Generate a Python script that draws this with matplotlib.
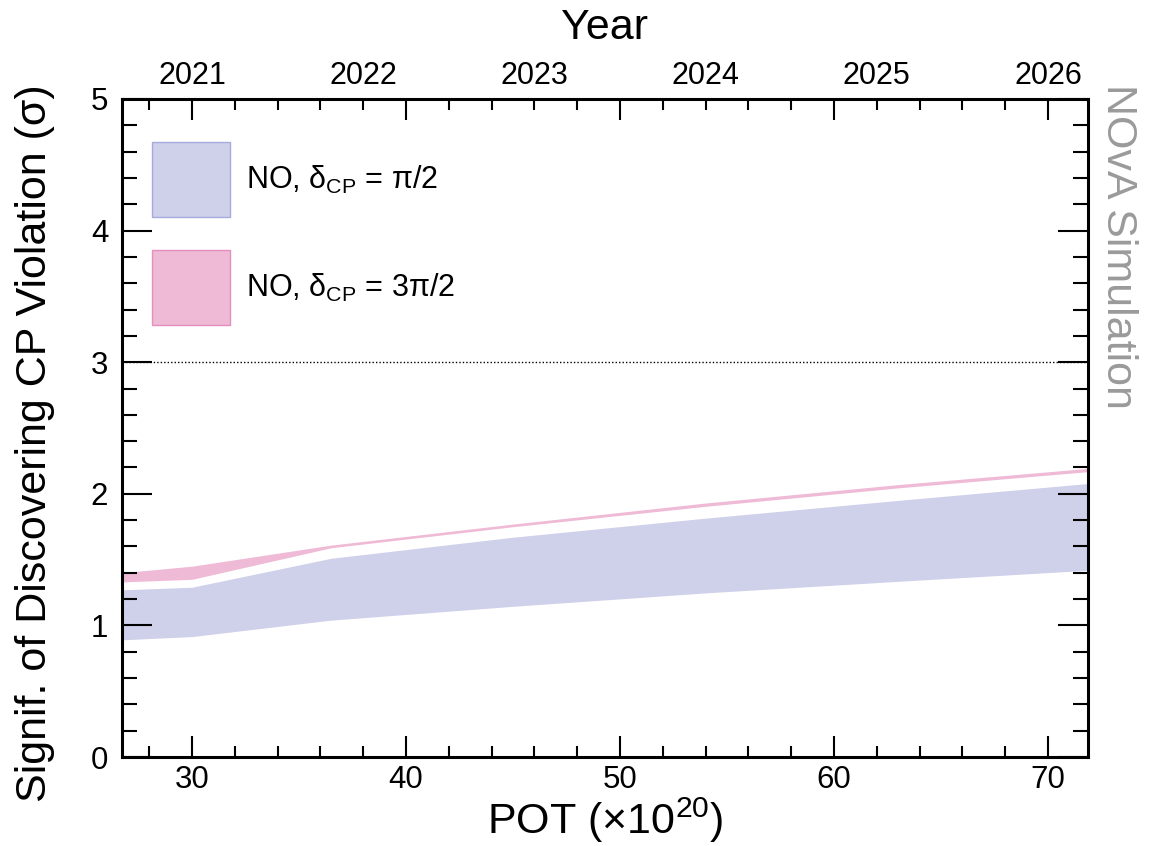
import matplotlib
matplotlib.use("Agg")
import matplotlib.pyplot as plt
from matplotlib.ticker import MultipleLocator
from matplotlib.patches import Rectangle

plt.rcParams['font.family'] = ['Liberation Sans', 'DejaVu Sans']
plt.rcParams['mathtext.default'] = 'regular'

# Exposure (POT, x10^20) at which the sensitivity was evaluated
pot = [26.7, 30.0, 36.5, 45.0, 54.0, 63.0, 72.0]

# NO, delta_CP = pi/2 : sensitivity band (sigma)
band_pi2_low = [0.89, 0.915, 1.04, 1.145, 1.247, 1.335, 1.42]
band_pi2_high = [1.27, 1.29, 1.51, 1.67, 1.815, 1.95, 2.08]

# NO, delta_CP = 3pi/2 : sensitivity band (sigma)
band_3pi2_low = [1.33, 1.35, 1.59, 1.75, 1.905, 2.045, 2.17]
band_3pi2_high = [1.40, 1.45, 1.61, 1.77, 1.93, 2.07, 2.195]

# Calendar years and the accumulated POT they correspond to
years = ['2021', '2022', '2023', '2024', '2025', '2026']
year_pot = [30, 38, 46, 54, 62, 70]

labels = [r'NO, δ$_{CP}$ = π/2', r'NO, δ$_{CP}$ = 3π/2']
blue_fill, blue_edge = '#cfd0ea', '#a8aade'
pink_fill, pink_edge = '#efbad6', '#e48fbd'

fig = plt.figure(figsize=(11.5, 8.46), dpi=100)
ax = fig.add_axes([0.1061, 0.1052, 0.8400, 0.7778])

ax.fill_between(pot, band_pi2_low, band_pi2_high, color=blue_fill, lw=0)
ax.fill_between(pot, band_3pi2_low, band_3pi2_high, color=pink_fill, lw=0)

ax.axhline(3, color='black', lw=1.0, ls=(0, (1, 1.5)), zorder=1)

ax.set_xlim(26.73, 71.87)
ax.set_ylim(0, 5)

ax.xaxis.set_major_locator(MultipleLocator(10))
ax.xaxis.set_minor_locator(MultipleLocator(2))
ax.yaxis.set_major_locator(MultipleLocator(1))
ax.yaxis.set_minor_locator(MultipleLocator(0.2))

ax.tick_params(which='both', direction='in', top=True, right=True,
               width=1.5, labelsize=22.5, pad=6)
ax.tick_params(axis='x', which='major', length=15)
ax.tick_params(axis='x', which='minor', length=8)
ax.tick_params(axis='y', which='major', length=21.5)
ax.tick_params(axis='y', which='minor', length=10.5)
ax.tick_params(axis='y', pad=10)
for s in ax.spines.values():
    s.set_linewidth(2.2)

# Year labels along the top edge, just above the frame
for yr, p in zip(years, year_pot):
    ax.text(p, 1.012, yr, transform=ax.get_xaxis_transform(),
            ha='center', va='bottom', fontsize=22)

fig.text(0.526, 1 - 28 / 846, 'Year', ha='center', va='center', fontsize=31)
fig.text(0.526, 1 - 820 / 846, r'POT (×10$^{20}$)', ha='center', va='center',
         fontsize=31)
fig.text(35 / 1150, 1 - 84 / 846, 'Signif. of Discovering CP Violation (σ)',
         rotation=90, ha='center', va='top', fontsize=31)
fig.text(1118 / 1150, 1 - 84 / 846, 'NOvA Simulation', rotation=-90,
         ha='center', va='top', fontsize=31, color='#9a9a9a')

# Legend drawn as boxes with labels
box_w, box_h = 78 / 1150, 75 / 846
for i, (lab, fc, ec) in enumerate([(labels[0], blue_fill, blue_edge),
                                   (labels[1], pink_fill, pink_edge)]):
    y0 = 1 - (217 + i * 108) / 846
    fig.patches.append(Rectangle((152 / 1150, y0), box_w, box_h,
                                 transform=fig.transFigure, facecolor=fc,
                                 edgecolor=ec, lw=1.0))
    fig.text(246 / 1150, y0 + box_h / 2, lab, ha='left', va='center',
             fontsize=22)

fig.savefig('out.png', dpi=100)
